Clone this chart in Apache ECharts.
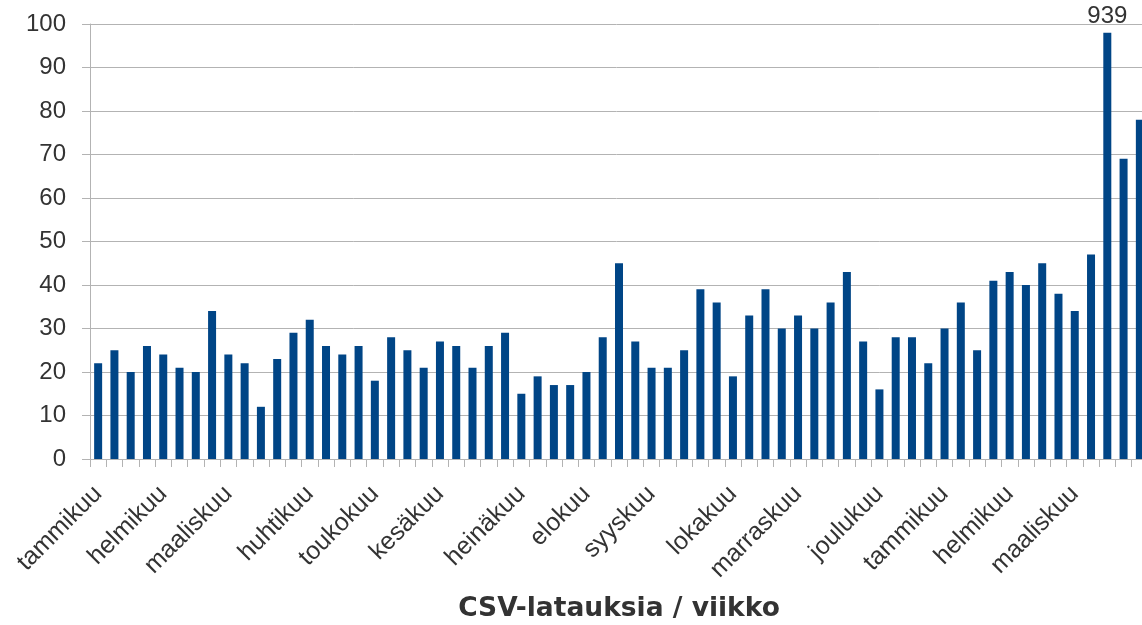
<!DOCTYPE html>
<html>
<head>
<meta charset="utf-8">
<script src="https://cdn.jsdelivr.net/npm/echarts@6/dist/echarts.min.js"></script>
<style>
  html, body { margin: 0; padding: 0; background: #fff; }
  #chart { width: 1142px; height: 625px; }
</style>
</head>
<body>
<div id="chart"></div>
<script>
// weekly CSV downloads, one bar per week
const weeklyDownloads = [
  22, 25, 20, 26, 24, 21, 20, 34, 24, 22, 12, 23, 29, 32, 26, 24, 26, 18, 28, 25,
  21, 27, 26, 21, 26, 29, 15, 19, 17, 17, 20, 28, 45, 27, 21, 21, 25, 39, 36, 19,
  33, 39, 30, 33, 30, 36, 43, 27, 16, 28, 28, 22, 30, 36, 25, 41, 43, 40, 45, 38,
  34, 47, 939, 69, 78
];

// month name shown at the first week of each month
const monthStarts = [
  [0, "tammikuu"], [4, "helmikuu"], [8, "maaliskuu"], [13, "huhtikuu"],
  [17, "toukokuu"], [21, "kesäkuu"], [26, "heinäkuu"], [30, "elokuu"],
  [34, "syyskuu"], [39, "lokakuu"], [43, "marraskuu"], [48, "joulukuu"],
  [52, "tammikuu"], [56, "helmikuu"], [60, "maaliskuu"]
];

const yTicks = [0, 10, 20, 30, 40, 50, 60, 70, 80, 90, 100];
const axisName = "CSV-latauksia / viikko";

const categories = weeklyDownloads.map(() => "");
monthStarts.forEach(([i, name]) => { categories[i] = name; });

const yMax = yTicks[yTicks.length - 1];
// off-scale week: bar is cut just under the top line, real value printed above
const cutAt = 98;

const chart = echarts.init(document.getElementById("chart"));
const gray = "#b3b3b3";
const textColor = "#333";

chart.setOption({
  backgroundColor: "#fff",
  animation: false,
  textStyle: { fontFamily: "Liberation Sans, Arial, sans-serif" },
  grid: { left: 90, right: -6, top: 24, bottom: 166, outerBoundsMode: "none", containLabel: false },
  xAxis: {
    type: "category",
    data: categories,
    boundaryGap: true,
    axisLine: { lineStyle: { color: gray, width: 1 } },
    axisTick: { show: true, interval: 0, length: 8, lineStyle: { color: gray } },
    axisLabel: {
      interval: 0,
      rotate: 45,
      margin: 31,
      fontSize: 25,
      color: textColor
    },
    name: axisName,
    nameLocation: "middle",
    nameGap: 137,
    nameTextStyle: {
      fontFamily: "'DejaVu Sans', Verdana, sans-serif",
      fontWeight: "bold",
      fontSize: 26.5,
      color: textColor
    }
  },
  yAxis: {
    type: "value",
    min: 0,
    max: yMax,
    interval: 10,
    axisLine: { show: true, lineStyle: { color: gray } },
    axisTick: { show: true, length: 8, lineStyle: { color: gray } },
    splitLine: { lineStyle: { color: gray } },
    axisLabel: { fontSize: 24, color: textColor, margin: 24 }
  },
  series: [
    {
      type: "bar",
      barWidth: 8,
      itemStyle: { color: "#004586" },
      data: weeklyDownloads.map((v) => {
        if (v <= yMax) return v;
        return {
          value: cutAt,
          label: {
            show: true,
            position: "top",
            distance: 4,
            formatter: String(v),
            fontSize: 24,
            color: textColor
          }
        };
      })
    }
  ]
});
</script>
</body>
</html>
